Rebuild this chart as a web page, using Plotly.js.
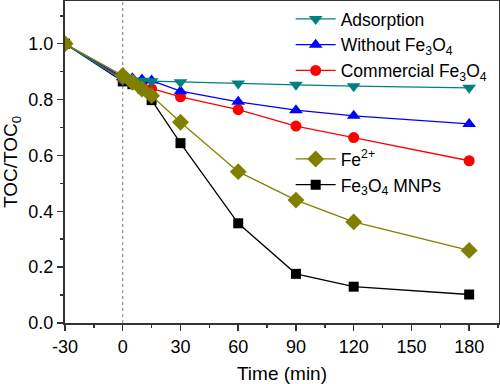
<!DOCTYPE html>
<html>
<head>
<meta charset="utf-8">
<script src="https://cdn.plot.ly/plotly-3.0.1.min.js"></script>
<style>html,body{margin:0;padding:0;background:#fff;}#chart{width:500px;height:384px;}</style>
</head>
<body>
<div id="chart"></div>
<script>
const time = [-30, 0, 5, 10, 15, 30, 60, 90, 120, 180];
const adsorption = [1.0, 0.87, 0.868, 0.867, 0.866, 0.862, 0.858, 0.853, 0.848, 0.842];
const withoutFe3O4 = [1.0, 0.88, 0.876, 0.872, 0.868, 0.83, 0.792, 0.762, 0.742, 0.713];
const commercialFe3O4 = [1.0, 0.875, 0.86, 0.85, 0.838, 0.81, 0.764, 0.705, 0.664, 0.581];
const fe2plus = [1.0, 0.886, 0.862, 0.838, 0.814, 0.719, 0.542, 0.44, 0.362, 0.26];
const fe3o4MNPs = [1.0, 0.865, 0.855, 0.84, 0.798, 0.644, 0.357, 0.176, 0.13, 0.102];
const xTicks = [-30, 0, 30, 60, 90, 120, 150, 180];
const yTicks = [0.0, 0.2, 0.4, 0.6, 0.8, 1.0];

const names = {
  ads: 'Adsorption',
  wo: 'Without Fe<sub>3</sub>O<sub>4</sub>',
  com: 'Commercial Fe<sub>3</sub>O<sub>4</sub>',
  fe2: 'Fe<sup>2+</sup>',
  mnp: 'Fe<sub>3</sub>O<sub>4</sub> MNPs'
};

function tr(y, name, color, symbol, size, legend, rank) {
  return {
    x: time, y: y, name: name, type: 'scatter', mode: 'lines+markers',
    line: {color: color, width: 1.3},
    marker: {color: color, symbol: symbol, size: size},
    legend: legend, legendrank: rank
  };
}

const data = [
  tr(fe3o4MNPs, names.mnp, '#000000', 'square', 10, 'legend2', 2),
  tr(commercialFe3O4, names.com, '#ff0000', 'circle', 11, 'legend', 3),
  tr(withoutFe3O4, names.wo, '#0000ff', 'triangle-up', 12, 'legend', 2),
  tr(adsorption, names.ads, '#008080', 'triangle-down', 12, 'legend', 1),
  tr(fe2plus, names.fe2, '#808000', 'diamond', 13, 'legend2', 1)
];

const font = {family: '"Liberation Sans", Arial, sans-serif', color: '#000'};

const layout = {
  width: 500, height: 384,
  margin: {l: 65, r: 1, t: 1, b: 61},
  paper_bgcolor: '#fff', plot_bgcolor: '#fff',
  font: Object.assign({size: 18}, font),
  showlegend: true,
  xaxis: {
    range: [-30, 195.5], tickvals: xTicks, ticktext: xTicks.map(String),
    ticks: 'outside', ticklen: 6, tickwidth: 1.5, tickcolor: '#333',
    minor: {dtick: 15, tick0: -30, ticks: 'outside', ticklen: 3, tickwidth: 1.5, tickcolor: '#333'},
    showline: true, linecolor: '#333', linewidth: 2, mirror: true,
    showgrid: false, zeroline: false,
    tickfont: Object.assign({size: 18}, font),
    title: {text: 'Time (min)', font: Object.assign({size: 19}, font), standoff: 12}
  },
  yaxis: {
    range: [0, 1.153], tickvals: yTicks, ticktext: yTicks.map(v => v.toFixed(1)),
    ticks: 'outside', ticklen: 6, tickwidth: 1.5, tickcolor: '#333',
    minor: {dtick: 0.1, tick0: 0, ticks: 'outside', ticklen: 3, tickwidth: 1.5, tickcolor: '#333'},
    showline: true, linecolor: '#333', linewidth: 2, mirror: true,
    showgrid: false, zeroline: false,
    tickfont: Object.assign({size: 18}, font),
    title: {text: 'TOC/TOC<sub>0</sub>', font: Object.assign({size: 19}, font), standoff: 6}
  },
  legend: {
    x: 0.52, y: 1.0, xanchor: 'left', yanchor: 'top',
    bgcolor: 'rgba(0,0,0,0)', font: Object.assign({size: 17.5}, font),
    itemwidth: 40, tracegroupgap: 0, traceorder: 'normal'
  },
  legend2: {
    x: 0.52, y: 0.565, xanchor: 'left', yanchor: 'top',
    bgcolor: 'rgba(0,0,0,0)', font: Object.assign({size: 17.5}, font),
    itemwidth: 40, tracegroupgap: 0, traceorder: 'normal'
  },
  shapes: [{
    type: 'line', xref: 'x', yref: 'paper', x0: 0, x1: 0, y0: 0, y1: 1,
    line: {color: '#777', width: 1, dash: 'dot'}, layer: 'below'
  }]
};

Plotly.newPlot('chart', data, layout, {displayModeBar: false, staticPlot: true});
</script>
</body>
</html>
